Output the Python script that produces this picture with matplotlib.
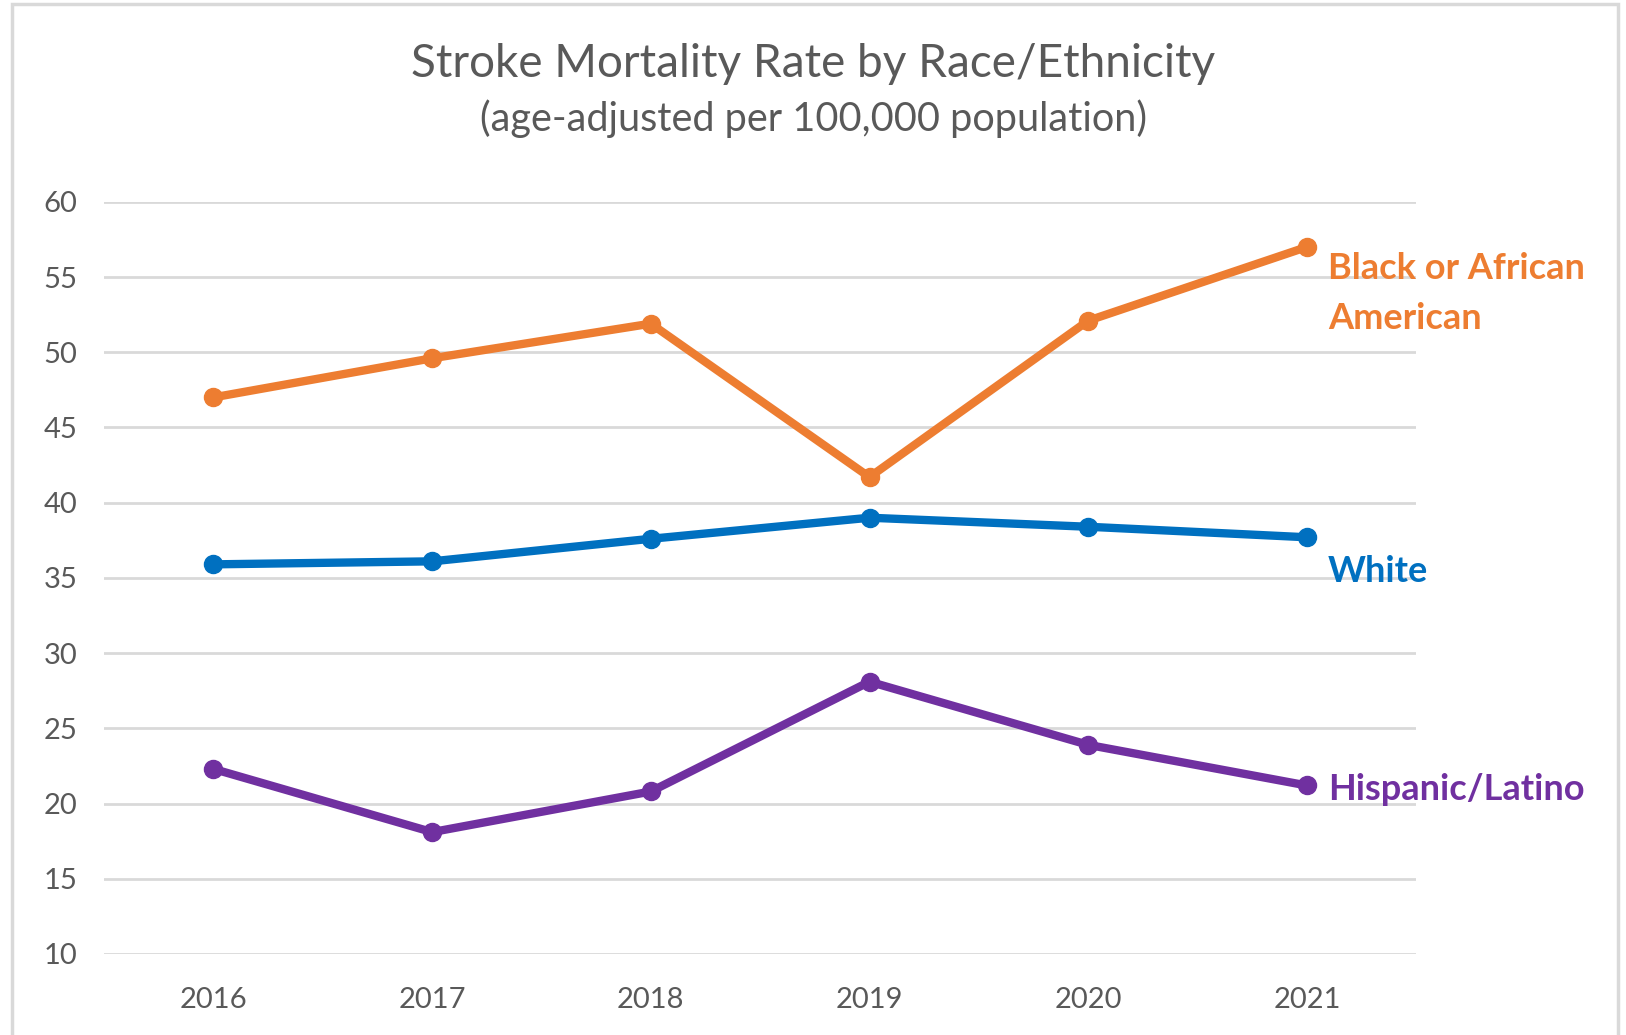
import matplotlib.pyplot as plt
from matplotlib.patches import Rectangle

plt.rcParams['font.family'] = ['Lato', 'DejaVu Sans']

years = ['2016', '2017', '2018', '2019', '2020', '2021']
black = [47.0, 49.6, 51.9, 41.7, 52.1, 57.0]
white = [35.9, 36.1, 37.6, 39.0, 38.4, 37.7]
hispanic = [22.3, 18.1, 20.8, 28.1, 23.9, 21.2]

series = [
    ('Black or African\nAmerican', black, '#ED7D31', 53.9),
    ('White', white, '#0070C0', 35.4),
    ('Hispanic/Latino', hispanic, '#7030A0', 20.9),
]

fig = plt.figure(figsize=(16.26, 10.35), dpi=100)
ax = fig.add_axes([0.064, 0.0783, 0.807, 0.7267])

x = list(range(len(years)))
for name, vals, color, label_y in series:
    ax.plot(x, vals, color=color, linewidth=6, marker='o', markersize=13,
            solid_capstyle='round', zorder=3)
    ax.annotate(name, xy=(x[-1], label_y), xytext=(15, 0), textcoords='offset points',
                color=color, fontsize=26, fontweight='bold', va='center', ha='left',
                linespacing=1.6, annotation_clip=False)

ax.set_xlim(-0.5, 5.5)
ax.set_ylim(10, 60)
ax.set_yticks(range(10, 61, 5))
ax.set_xticks(x)
ax.set_xticklabels(years)
ax.grid(axis='y', color='#D9D9D9', linewidth=2)
ax.set_axisbelow(True)
for s in ax.spines.values():
    s.set_visible(False)
ax.tick_params(length=0, labelsize=21, labelcolor='#595959')
ax.tick_params(axis='x', pad=24)
ax.tick_params(axis='y', pad=19)

fig.text(0.5, 0.938, 'Stroke Mortality Rate by Race/Ethnicity', ha='center', va='center',
         fontsize=33, color='#595959')
fig.text(0.5, 0.885, '(age-adjusted per 100,000 population)', ha='center', va='center',
         fontsize=28.5, color='#595959')

fig.patches.append(Rectangle((12 / 1626, -0.01), 1606 / 1626, 1 - 4 / 1035 + 0.01,
                             transform=fig.transFigure, fill=False,
                             edgecolor='#D9D9D9', linewidth=2.5))

fig.savefig('out.png', dpi=100)
